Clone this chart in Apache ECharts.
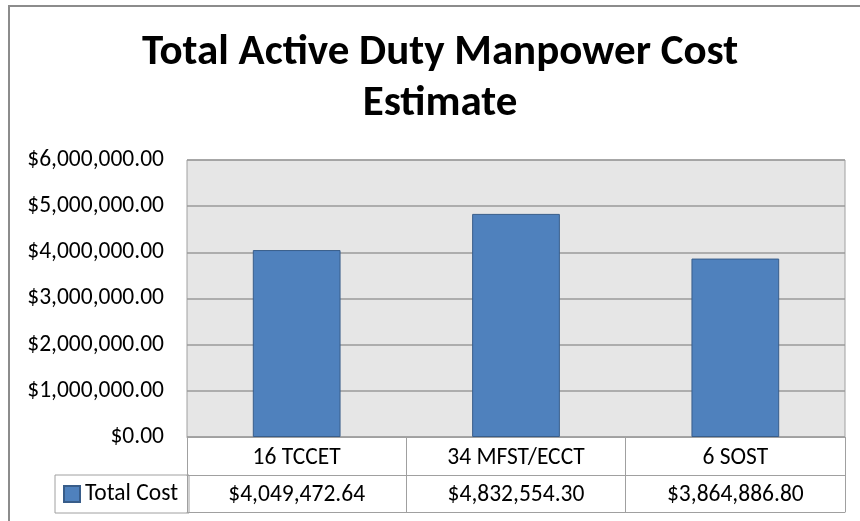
<!DOCTYPE html>
<html>
<head>
<meta charset="utf-8">
<script src="https://cdn.jsdelivr.net/npm/echarts@6/dist/echarts.min.js"></script>
<style>
html,body{margin:0;padding:0;background:#fff;}
#chart{width:860px;height:521px;}
</style>
</head>
<body>
<div id="chart"></div>
<script>
var titleText = 'Total Active Duty Manpower Cost\nEstimate';
var categories = ['16 TCCET', '34 MFST/ECCT', '6 SOST'];
var seriesName = 'Total Cost';
var totalCost = [4049472.64, 4832554.30, 3864886.80];
var yMin = 0, yMax = 6000000, yInterval = 1000000;

var FONT = "Carlito, 'Liberation Sans', sans-serif";

function money(v) {
  var parts = Number(v).toFixed(2).split('.');
  parts[0] = parts[0].replace(/\B(?=(\d{3})+(?!\d))/g, ',');
  return '$' + parts.join('.');
}

var chart = echarts.init(document.getElementById('chart'));
var lineColor = '#a0a0a0';
chart.setOption({
  animation: false,
  backgroundColor: '#ffffff',
  title: {
    text: titleText,
    left: 440,
    textAlign: 'center',
    top: 28,
    padding: 0,
    textStyle: { fontFamily: FONT, fontSize: 43, fontWeight: 'bold', color: '#000', lineHeight: 51 }
  },
  graphic: [{
    type: 'rect', silent: true, z: -1,
    shape: { x: 9, y: 6, width: 900, height: 600 },
    style: { fill: 'none', stroke: '#8c8c8c', lineWidth: 2 }
  }],
  legend: {
    data: [seriesName],
    left: 55, top: 475,
    orient: 'horizontal',
    icon: 'rect',
    itemWidth: 16, itemHeight: 16, itemGap: 5,
    padding: [7, 11, 7, 8],
    borderColor: lineColor, borderWidth: 1,
    textStyle: { fontFamily: FONT, fontSize: 23.5, color: '#000' }
  },
  grid: {
    left: 187, right: 15, top: 160, bottom: 84,
    show: true, backgroundColor: '#e6e6e6', borderColor: lineColor, borderWidth: 1
  },
  xAxis: [{
    type: 'category', data: categories, position: 'bottom',
    axisLine: { show: true, lineStyle: { color: lineColor, width: 1 } },
    axisTick: { show: true, length: 75, lineStyle: { color: lineColor, width: 1 } },
    axisLabel: { fontFamily: FONT, fontSize: 23.5, color: '#000', margin: 9 }
  }, {
    type: 'category', data: categories, position: 'bottom', offset: 38,
    axisLine: { show: true, lineStyle: { color: lineColor, width: 1 } },
    axisTick: { show: false },
    axisLabel: {
      fontFamily: FONT, fontSize: 23.5, color: '#000', margin: 8,
      formatter: function (v, i) { return money(totalCost[i]); }
    }
  }, {
    type: 'category', data: categories, position: 'bottom', offset: 75,
    axisLine: { show: true, lineStyle: { color: lineColor, width: 1 } },
    axisTick: { show: false },
    axisLabel: { show: false }
  }],
  yAxis: {
    type: 'value', min: yMin, max: yMax, interval: yInterval,
    axisLine: { show: false }, axisTick: { show: false },
    splitLine: { lineStyle: { color: '#9a9a9a', width: 1.5 } },
    axisLabel: { fontFamily: FONT, fontSize: 23.5, color: '#000', margin: 23, formatter: money }
  },
  series: [{
    name: seriesName, type: 'bar', xAxisIndex: 0, data: totalCost,
    barWidth: '40%',
    itemStyle: { color: '#4f81bd', borderColor: '#385d8a', borderWidth: 1 }
  }]
});
</script>
</body>
</html>
